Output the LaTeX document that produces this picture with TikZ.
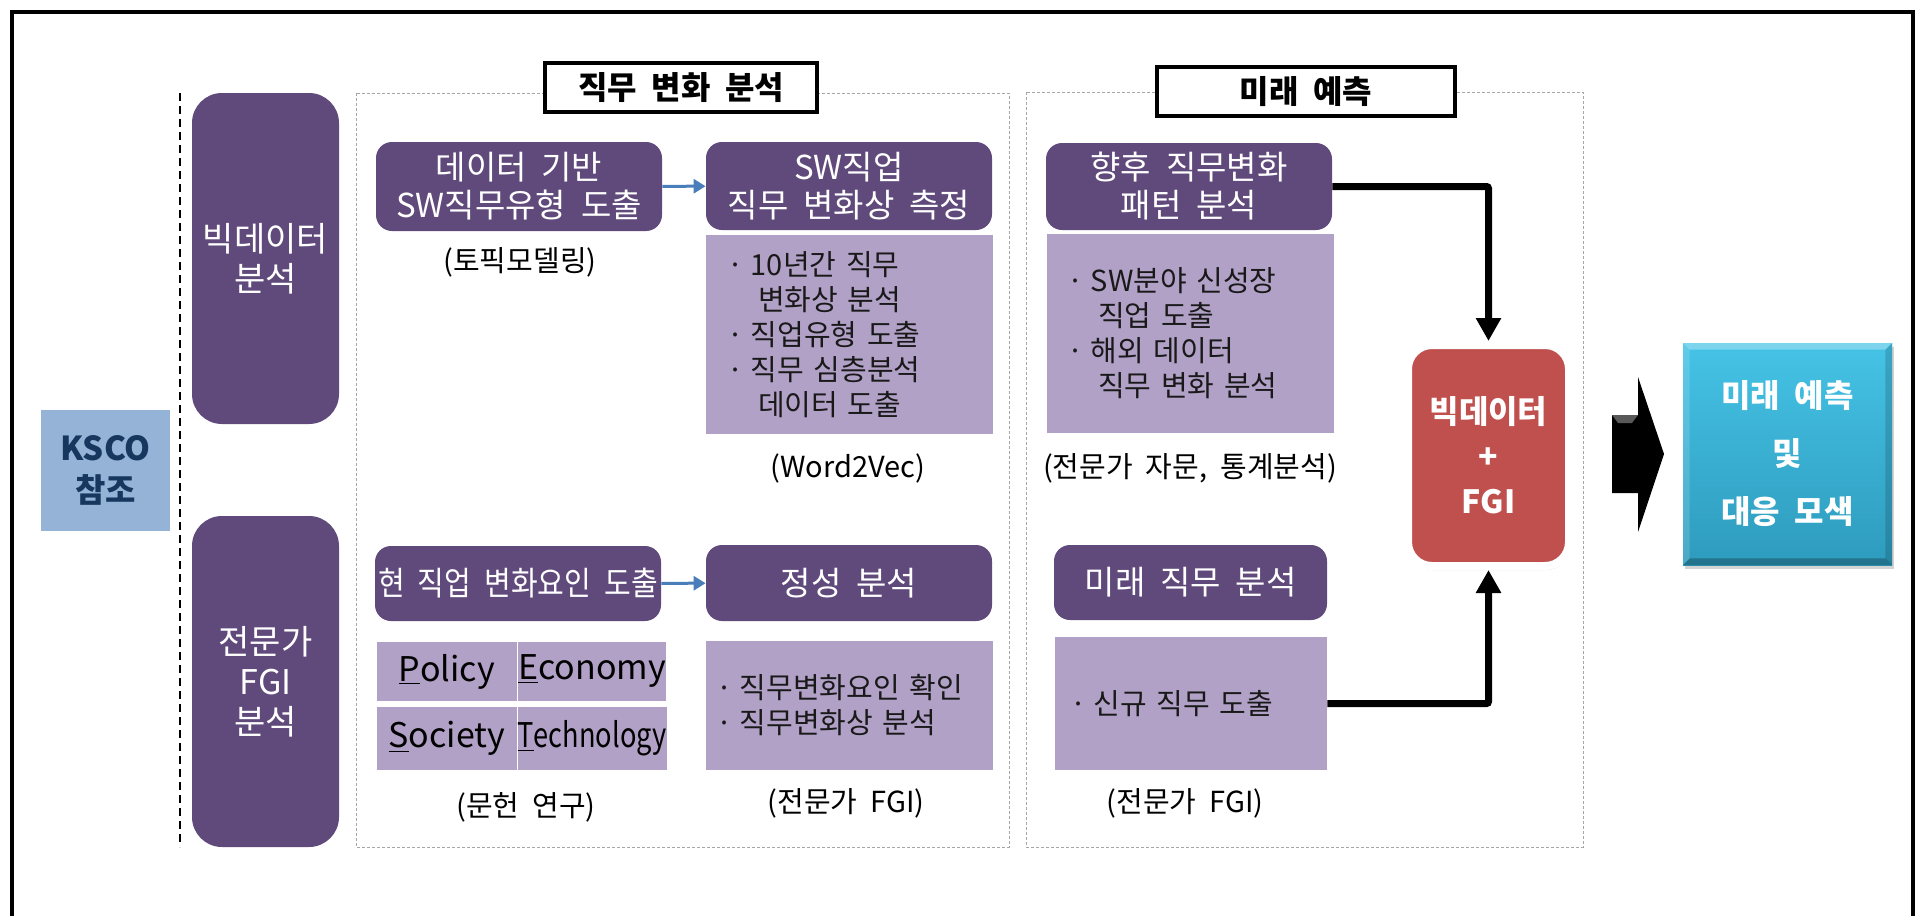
\documentclass[tikz,border=0pt]{standalone}
\usepackage{fontspec}
\usepackage{graphicx}
\setmainfont[WordSpace=2]{Noto Sans CJK KR}
\usetikzlibrary{arrows.meta,calc,shadows}
\definecolor{darkpurple}{HTML}{604A7B}
\definecolor{lightpurple}{HTML}{B2A1C7}
\definecolor{kscoblue}{HTML}{95B3D7}
\definecolor{kscotext}{HTML}{17375E}
\definecolor{fgired}{HTML}{C0504D}
\definecolor{linkblue}{HTML}{4A7EBB}
\definecolor{framegray}{HTML}{A6A6A6}
\definecolor{cyantop}{HTML}{45C3E6}
\definecolor{cyanbot}{HTML}{2E9BBD}
\newcommand\bul{\makebox[0.65em][l]{\hspace{-0.16em}·}}
\newcommand\hang{\hspace*{0.9em}}

\begin{document}
\begin{tikzpicture}[x=0.5pt,y=-0.5pt,
  side/.style={fill=darkpurple,rounded corners=15pt,minimum width=73.5pt,minimum height=165.5pt,
    text=white,font=\fontsize{17}{20}\selectfont,align=center,inner sep=0pt},
  head/.style={fill=darkpurple,rounded corners=8pt,minimum width=143pt,text=white,
    font=\fontsize{16.5}{19}\selectfont,align=center,inner sep=0pt},
  listbox/.style={fill=lightpurple,minimum width=143.5pt,text=black!90,
    font=\fontsize{14.5}{17.5}\selectfont,align=left,inner ysep=0pt},
  pest/.style={fill=lightpurple,minimum width=70pt,text=black,font=\fontsize{17}{17}\selectfont,inner sep=0pt},
  method/.style={font=\fontsize{14.5}{16}\selectfont,text=black},
  title/.style={draw=black,line width=1.8pt,fill=white,minimum height=24.5pt,
    font=\bfseries\fontsize{16}{18}\selectfont,inner sep=0pt},
  area/.style={draw=framegray,line width=0.5pt,dash pattern=on 1.5pt off 1pt},
  link/.style={draw=linkblue,line width=1.5pt,-{Triangle[length=6pt,width=7pt]}},
  flow/.style={draw=black,line width=3.5pt,rounded corners=1pt,-{Triangle[length=11.5pt,width=12pt]}},
]
\useasboundingbox (0,0) rectangle (1923,916);

\draw[line width=2pt] (12,916) -- (12,12) -- (1913,12) -- (1913,916);

\node[fill=kscoblue,minimum width=64.5pt,minimum height=60.5pt,text=kscotext,
  font=\bfseries\fontsize{16.5}{21}\selectfont,align=center,inner sep=0pt] (ksco) at (105.5,470.5) {KSCO\\참조};
\draw[line width=0.8pt,dash pattern=on 4pt off 2.5pt] (180,93) -- (180,847);
\node[side] (bigdata) at (265.5,258.5) {빅데이터\\분석};
\node[side] (expert) at (265.5,681.5) {전문가\\FGI\\분석};

\draw[area] (356,93) rectangle (1009,847);
\draw[area] (1026,92) rectangle (1583,847);
\node[title,minimum width=136pt] (change) at (681,87.5) {직무 변화 분석};
\node[title,minimum width=149pt] (future) at (1306,91.5) {미래 예측};

% job change analysis
\node[head,minimum height=44.5pt] (typing) at (519,186.5) {데이터 기반\\SW직무유형 도출};
\node[method] (topic) at (520,262) {(토픽모델링)};
\node[head,minimum height=44pt] (measure) at (849,186) {SW직업\\직무 변화상 측정};
\node[listbox,minimum height=99.5pt,inner xsep=13pt,text width=117.5pt] (measurelist) at (849.5,334.5)
  {\bul 10년간 직무\\\hang 변화상 분석\\\bul 직업유형 도출\\\bul 직무 심층분석\\\hang 데이터 도출};
\node[method] (w2v) at (848,468) {(Word2Vec)};
\draw[link] (typing) -- (measure);

\node[head,minimum height=37.5pt] (factor) at (518,583.5) {\scalebox{0.88}[1]{현 직업 변화요인 도출}};
\node[head,minimum height=38pt] (quali) at (849,583) {정성 분석};
\draw[link] (factor) -- (quali);
\node[pest,minimum height=29.5pt] (policy) at (447,671.5) {\underline{P}olicy};
\node[pest,minimum height=29.5pt] (economy) at (592,671.5) {\underline{E}conomy};
\node[pest,minimum height=31.5pt] (society) at (447,738.5) {\underline{S}ociety};
\node[pest,minimum height=31.5pt] (technology) at (592,738.5) {\scalebox{0.8}[1]{\underline{T}echnology}};
\node[method] (literature) at (526,807) {(문헌 연구)};
\node[listbox,minimum height=64.5pt,inner xsep=7.5pt,text width=128.5pt] (qualilist) at (849.5,705.5)
  {\bul 직무변화요인 확인\\\bul 직무변화상 분석};
\node[method] (fgi1) at (846,803) {(전문가 FGI)};

% future prediction
\node[head,minimum height=43.5pt] (pattern) at (1189,186.5) {향후 직무변화\\패턴 분석};
\node[listbox,minimum height=99.5pt,inner xsep=12.5pt,text width=118pt] (patternlist) at (1190,333.5)
  {\bul SW분야 신성장\\\hang 직업 도출\\\bul 해외 데이터\\\hang 직무 변화 분석};
\node[method] (advice) at (1190,468) {(전문가 자문, 통계분석)};
\node[head,minimum width=136.5pt,minimum height=37.5pt] (futurejob) at (1190.5,582.5) {미래 직무 분석};
\node[listbox,minimum width=136pt,minimum height=66.5pt,inner xsep=10pt,text width=116pt] (futurelist) at (1191,703.5)
  {\bul 신규 직무 도출};
\node[method] (fgi2) at (1185,803) {(전문가 FGI)};

\node[fill=fgired,draw=white,line width=4pt,rounded corners=12pt,minimum width=80.5pt,minimum height=110.5pt,
  drop shadow={opacity=0.3,shadow xshift=0.5pt,shadow yshift=-2pt},
  text=white,font=\bfseries\fontsize{16}{22.5}\selectfont,align=center,inner sep=0pt] (merge) at (1488.5,455.5)
  {빅데이터\\+\\FGI};
\draw[flow] (pattern.east) -| (merge.north);
\draw[flow] (futurelist.east) -| (merge.south);

\fill[black] (1612,415) -- (1638,415) -- (1638,377) -- (1664,454) -- (1638,532) -- (1638,493) -- (1612,493) -- cycle;
\fill[black!65] (1612,415) -- (1638,415) -- (1632,423) -- (1618,423) -- cycle;

\node[top color=cyantop,bottom color=cyanbot,minimum width=104.5pt,minimum height=111pt,
  drop shadow={opacity=0.35,shadow xshift=1pt,shadow yshift=-2pt},
  text=white,font=\bfseries\fontsize{16}{29}\selectfont,align=center,inner sep=0pt] (result) at (1787.5,454)
  {미래 예측\\및\\대응 모색};
\fill[white,opacity=0.3] (result.north west) -- (result.north east) -- ($(result.north east)+(-7,7)$) -- ($(result.north west)+(7,7)$) -- cycle;
\fill[white,opacity=0.15] (result.north west) -- ($(result.north west)+(7,7)$) -- ($(result.south west)+(7,-7)$) -- (result.south west) -- cycle;
\fill[black,opacity=0.25] (result.south west) -- (result.south east) -- ($(result.south east)+(-7,-7)$) -- ($(result.south west)+(7,-7)$) -- cycle;
\fill[black,opacity=0.15] (result.north east) -- ($(result.north east)+(-7,7)$) -- ($(result.south east)+(-7,-7)$) -- (result.south east) -- cycle;

\end{tikzpicture}
\end{document}
